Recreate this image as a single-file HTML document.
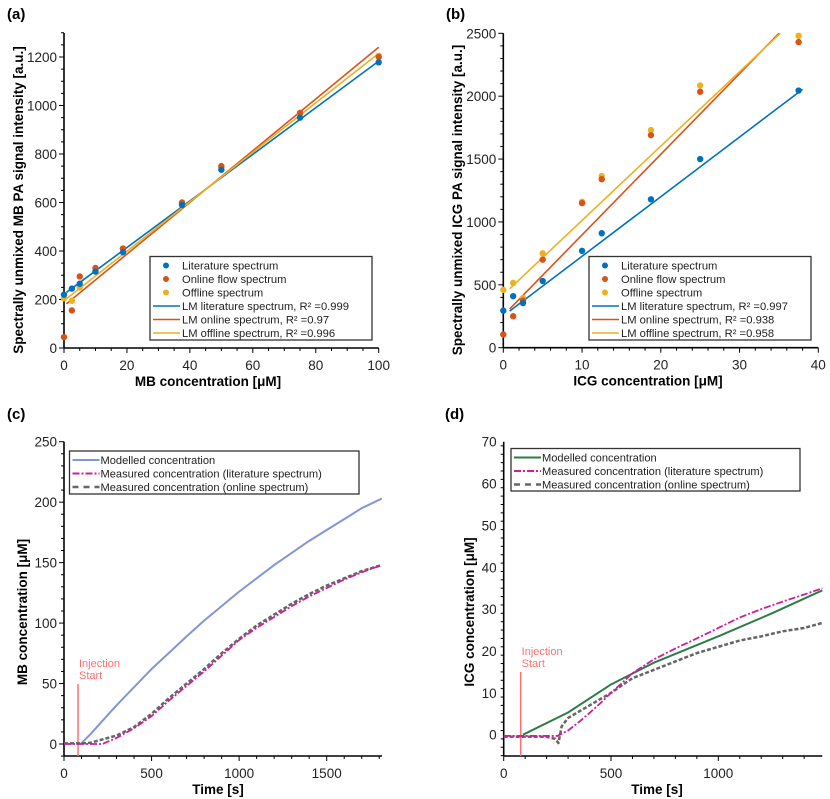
<!DOCTYPE html>
<html><head><meta charset="utf-8">
<style>
html,body{margin:0;padding:0;background:#fff;}
svg{display:block;font-family:"Liberation Sans",sans-serif;}
</style></head>
<body>
<svg id="fig" width="830" height="799" viewBox="0 0 830 799" xmlns="http://www.w3.org/2000/svg"></svg>
<script>
// ---------- Panel (a) data ----------
const aConc = [0, 2.5, 5, 10, 18.75, 37.5, 50, 75, 100];
const aLit = [220, 245, 265, 315, 395, 590, 735, 950, 1178];
const aOnline = [45, 155, 295, 330, 410, 600, 750, 970, 1200];
const aOffline = [205, 195, 250, 320, 410, 595, 745, 965, 1205];
const aFitSlope = [9.61, 10.66, 10.2];
const aFitIntercept = [222, 174, 195];
const aFitR2 = ["0.999", "0.97", "0.996"];
const aXTicks = [0, 20, 40, 60, 80, 100];
const aYTicks = [0, 200, 400, 600, 800, 1000, 1200];

// ---------- Panel (b) data ----------
const bConc = [0, 1.25, 2.5, 5, 10, 12.5, 18.75, 25, 37.5];
const bLit = [295, 410, 355, 530, 770, 910, 1180, 1500, 2045];
const bOnline = [105, 250, 375, 700, 1150, 1340, 1690, 2035, 2430];
const bOffline = [460, 515, 395, 750, 1160, 1365, 1730, 2085, 2480];
const bFitSlope = [47.4, 64.1, 59.1];
const bFitIntercept = [253, 256, 421];
const bFitR2 = ["0.997", "0.938", "0.958"];
const bXTicks = [0, 10, 20, 30, 40];
const bYTicks = [0, 500, 1000, 1500, 2000, 2500];

// ---------- Panel (c) data ----------
const cModelT = [95, 150, 200, 250, 300, 350, 400, 450, 500, 600, 700, 800, 900, 1000, 1100, 1200, 1300, 1400, 1500, 1600, 1700, 1815];
const cModelV = [0, 8, 16, 24, 32, 39.5, 47, 54.5, 62, 75.5, 89, 102, 114, 126, 137, 148, 158, 168, 177, 186, 195, 203];
const cLitT = [0, 100, 220, 250, 300, 350, 400, 500, 600, 700, 800, 900, 1000, 1100, 1200, 1300, 1400, 1500, 1600, 1700, 1815];
const cLitV = [0, 0, 0, 2, 5, 9, 13, 23, 36, 48, 60, 73, 86, 96, 105, 114, 122, 129, 136, 142, 148];
const cOnT = [0, 100, 150, 200, 300, 400, 500, 600, 700, 800, 900, 1000, 1100, 1200, 1300, 1400, 1500, 1600, 1700, 1815];
const cOnV = [0.5, 0.5, 1, 3, 7, 14, 25, 38, 50, 62, 75, 87, 98, 107, 116, 124, 131, 137, 143, 148];
const cXTicks = [0, 500, 1000, 1500];
const cYTicks = [0, 50, 100, 150, 200, 250];
const cInjection = [80];

// ---------- Panel (d) data ----------
const dModelT = [90, 300, 500, 700, 1000, 1250, 1485];
const dModelV = [0, 5.3, 12, 17.2, 23.5, 29, 34.5];
const dLitT = [0, 250, 300, 350, 400, 450, 500, 550, 600, 700, 800, 900, 1000, 1100, 1200, 1300, 1400, 1485];
const dLitV = [-0.3, -0.3, 1, 3, 5.2, 7.5, 10, 12.3, 14.7, 18, 20.6, 23, 25.5, 28, 30, 31.8, 33.5, 35];
const dOnT = [0, 200, 240, 255, 270, 300, 400, 500, 600, 700, 800, 900, 1000, 1100, 1200, 1300, 1400, 1485];
const dOnV = [-0.5, -0.5, -1, -2, 2, 4, 7, 10, 13.5, 15.5, 17.5, 19.5, 21, 22.5, 23.5, 24.7, 25.5, 26.7];
const dXTicks = [0, 500, 1000];
const dYTicks = [0, 10, 20, 30, 40, 50, 60, 70];
const dInjection = [79];

const NS = "http://www.w3.org/2000/svg";
const fig = document.getElementById("fig");
function mk(parent, tag, attrs, text) {
  const e = document.createElementNS(NS, tag);
  for (const k in attrs) e.setAttribute(k, attrs[k]);
  if (text !== undefined) e.textContent = text;
  parent.appendChild(e);
  return e;
}
function group(name) {
  const g = document.createElementNS(NS, "g");
  
  
  fig.appendChild(g);
  return g;
}
function scale(d0, d1, r0, r1) { return v => r0 + (v - d0) * (r1 - r0) / (d1 - d0); }

function axes(g, P) {
  const ax = mk(g, "line", {x1: P.x0, y1: P.y0, x2: P.x1, y2: P.y0, stroke: "#000", "stroke-width": 1.6});
  
  
  const ay = mk(g, "line", {x1: P.x0, y1: P.y0, x2: P.x0, y2: P.y1, stroke: "#000", "stroke-width": 1.6});
  
  
  for (let v = P.xmin; v <= P.xmax + 1e-9; v += P.xMinor) {
    const x = P.sx(v);
    const major = P.xTicks.some(t => Math.abs(t - v) < 1e-6);
    const t = mk(g, "line", {x1: x, y1: P.y0, x2: x, y2: P.y0 + (major ? 5 : 3), stroke: "#000", "stroke-width": 1});
    
    
  }
  for (let v = P.ymin; v <= P.ymax + 1e-9; v += P.yMinor) {
    const y = P.sy(v);
    const major = P.yTicks.some(t => Math.abs(t - v) < 1e-6);
    const t = mk(g, "line", {x1: P.x0, y1: y, x2: P.x0 - (major ? 5 : 3), y2: y, stroke: "#000", "stroke-width": 1});
    
    
  }
  P.xTicks.forEach(v => {
    const t = mk(g, "text", {x: P.sx(v), y: P.y0 + 22, "text-anchor": "middle", "font-size": 13.5, fill: "#222"}, String(v));
    
    
  });
  P.yTicks.forEach(v => {
    const t = mk(g, "text", {x: P.x0 - 7, y: P.sy(v) + 5, "text-anchor": "end", "font-size": 13.5, fill: "#222"}, String(v));
    
    
  });
  const xt = mk(g, "text", {x: P.xTitleX, y: P.y0 + 38, "text-anchor": "middle", "font-size": 13.5, "font-weight": "bold"}, P.xTitle);
  
  
  const yt = mk(g, "text", {x: 0, y: 0, "text-anchor": "middle", "font-size": 13.5, "font-weight": "bold",
    transform: `translate(${P.yTitleX},${P.yTitleY}) rotate(-90)`}, P.yTitle);
  
  
  const pl = mk(g, "text", {x: P.labelX, y: P.labelY, "font-size": 15, "font-weight": "bold"}, P.label);
  
  
}

function polyline(g, xs, ys, sx, sy, style, name) {
  const pts = xs.map((x, i) => sx(x).toFixed(2) + "," + sy(ys[i]).toFixed(2)).join(" ");
  const p = mk(g, "polyline", Object.assign({points: pts, fill: "none", "stroke-linejoin": "round"}, style));
  
  
  return p;
}

const COLORS = ["#0072BD", "#D95319", "#EDB120"];

function scatterPanel(name, P, conc, series, slopes, intercepts, r2, legend) {
  const g = group(name);
  axes(g, P);
  const seriesNames = ["literature", "online", "offline"];
  slopes.forEach((m, i) => {
    const b = intercepts[i];
    let xa = 0.8, xb = P.fitEnd;
    if (b + m * xb > P.ymax) xb = (P.ymax - b) / m;
    const l = mk(g, "line", {x1: P.sx(xa), y1: P.sy(b + m * xa), x2: P.sx(xb), y2: P.sy(b + m * xb), stroke: COLORS[i], "stroke-width": 1.6});
    
    
  });
  [2, 1, 0].forEach(i => {
    series[i].forEach((v, j) => {
      const c = mk(g, "circle", {cx: P.sx(conc[j]), cy: P.sy(v), r: 3.2, fill: COLORS[i]});
      
      
    });
  });
  const lg = mk(g, "g", {});
  
  
  const box = mk(lg, "rect", {x: legend.x, y: legend.y, width: legend.w, height: legend.h, fill: "#fff", stroke: "#333", "stroke-width": 1.3});
  
  
  const labels = ["Literature spectrum", "Online flow spectrum", "Offline spectrum",
    "LM literature spectrum, R\u00B2 =" + r2[0], "LM online spectrum, R\u00B2 =" + r2[1], "LM offline spectrum, R\u00B2 =" + r2[2]];
  labels.forEach((t, k) => {
    const yy = legend.y + 9 + k * 13.5;
    if (k < 3) {
      const c = mk(lg, "circle", {cx: legend.x + 16, cy: yy, r: 3, fill: COLORS[k]});
      
      
    } else {
      const l = mk(lg, "line", {x1: legend.x + 3, y1: yy, x2: legend.x + 30, y2: yy, stroke: COLORS[k - 3], "stroke-width": 1.6});
      
      
    }
    const tx = mk(lg, "text", {x: legend.x + 32, y: yy + 4.2, "font-size": 11.2, fill: "#222"}, t);
    
    
  });
}

(function () {
  const P = {x0: 64, x1: 378.7, y0: 348, y1: 33, xmin: 0, xmax: 100, ymin: 0, ymax: 1300,
    xTicks: aXTicks, yTicks: aYTicks, xMinor: 5, yMinor: 50, fitEnd: 100,
    xTitle: "MB concentration [\u03BCM]", xTitleX: 208, yTitle: "Spectrally unmixed MB PA signal intensity [a.u.]",
    yTitleX: 23, yTitleY: 200, label: "(a)", labelX: 7, labelY: 19};
  P.sx = scale(0, 100, 64, 378.7);
  P.sy = scale(0, 1200, 348, 57);
  scatterPanel("panel-a-chart", P, aConc, [aLit, aOnline, aOffline], aFitSlope, aFitIntercept, aFitR2,
    {x: 150, y: 256.5, w: 222, h: 83.5});
})();

(function () {
  const P = {x0: 503.3, x1: 818.3, y0: 347.7, y1: 33.3, xmin: 0, xmax: 40, ymin: 0, ymax: 2500,
    xTicks: bXTicks, yTicks: bYTicks, xMinor: 2, yMinor: 100, fitEnd: 38,
    xTitle: "ICG concentration [\u03BCM]", xTitleX: 648, yTitle: "Spectrally unmixed ICG PA signal intensity [a.u.]",
    yTitleX: 462, yTitleY: 200, label: "(b)", labelX: 446, labelY: 19};
  P.sx = scale(0, 40, 503.3, 818.3);
  P.sy = scale(0, 2500, 347.7, 33.3);
  scatterPanel("panel-b-chart", P, bConc, [bLit, bOnline, bOffline], bFitSlope, bFitIntercept, bFitR2,
    {x: 589, y: 256.5, w: 222, h: 83.5});
})();

function timePanel(name, P, model, lit, on, inj, modelColor, legend) {
  const g = group(name);
  axes(g, P);
  const ix = P.sx(inj[0]);
  const il = mk(g, "line", {x1: ix, y1: P.injTop, x2: ix, y2: P.y0, stroke: "#FF7070", "stroke-width": 1.5});
  
  
  const t1 = mk(g, "text", {x: ix + 1, y: P.injTop - 17, "font-size": 11, fill: "#FF7070"}, "Injection");
  
  
  const t2 = mk(g, "text", {x: ix + 1, y: P.injTop - 5, "font-size": 11, fill: "#FF7070"}, "Start");
  
  
  polyline(g, model[0], model[1], P.sx, P.sy, {stroke: modelColor, "stroke-width": 2}, "modelled-concentration-line");
  polyline(g, on[0], on[1], P.sx, P.sy, {stroke: "#666", "stroke-width": 2.5, "stroke-dasharray": "4,2"}, "measured-online-line");
  polyline(g, lit[0], lit[1], P.sx, P.sy, {stroke: "#CC1F9A", "stroke-width": 1.8, "stroke-dasharray": "7,2,2,2"}, "measured-literature-line");
  const lg = mk(g, "g", {});
  
  
  const box = mk(lg, "rect", {x: legend.x, y: legend.y, width: legend.w, height: legend.h, fill: "#fff", stroke: "#333", "stroke-width": 1.3});
  
  
  const styles = [{stroke: modelColor, "stroke-width": 2}, {stroke: "#CC1F9A", "stroke-width": 2, "stroke-dasharray": "7,2,2,2"},
    {stroke: "#666", "stroke-width": 2.4, "stroke-dasharray": "6,5"}];
  const labels = ["Modelled concentration", "Measured concentration (literature spectrum)", "Measured concentration (online spectrum)"];
  labels.forEach((t, k) => {
    const yy = legend.y + 9 + k * 13.5;
    const l = mk(lg, "line", Object.assign({x1: legend.x + 3, y1: yy, x2: legend.x + 30, y2: yy}, styles[k]));
    
    
    const tx = mk(lg, "text", {x: legend.x + 31, y: yy + 4.2, "font-size": 11.1, fill: "#222"}, t);
    
    
  });
}

(function () {
  const P = {x0: 64, x1: 382, y0: 756, y1: 441.7, xmin: 0, xmax: 1815, ymin: -10, ymax: 250,
    xTicks: cXTicks, yTicks: cYTicks, xMinor: 100, yMinor: 10, injTop: 684,
    xTitle: "Time [s]", xTitleX: 218, yTitle: "MB concentration [\u03BCM]",
    yTitleX: 27, yTitleY: 612, label: "(c)", labelX: 7, labelY: 419};
  P.sx = scale(0, 1500, 64, 326.7);
  P.sy = scale(0, 250, 744, 441.7);
  timePanel("panel-c-chart", P, [cModelT, cModelV], [cLitT, cLitV], [cOnT, cOnV], cInjection, "#8495D6",
    {x: 69.5, y: 451, w: 289.5, h: 43});
})();

(function () {
  const P = {x0: 503.7, x1: 822.3, y0: 756, y1: 441.7, xmin: 0, xmax: 1485, ymin: -5, ymax: 70,
    xTicks: dXTicks, yTicks: dYTicks, xMinor: 100, yMinor: 2, injTop: 672,
    xTitle: "Time [s]", xTitleX: 657, yTitle: "ICG concentration [\u03BCM]",
    yTitleX: 474, yTitleY: 612, label: "(d)", labelX: 445, labelY: 419};
  P.sx = scale(0, 1000, 503.7, 718.3);
  P.sy = scale(0, 70, 734.7, 441.7);
  timePanel("panel-d-chart", P, [dModelT, dModelV], [dLitT, dLitV], [dOnT, dOnV], dInjection, "#2E7D46",
    {x: 511, y: 448.5, w: 289, h: 42.5});
})();
</script>
</body></html>
